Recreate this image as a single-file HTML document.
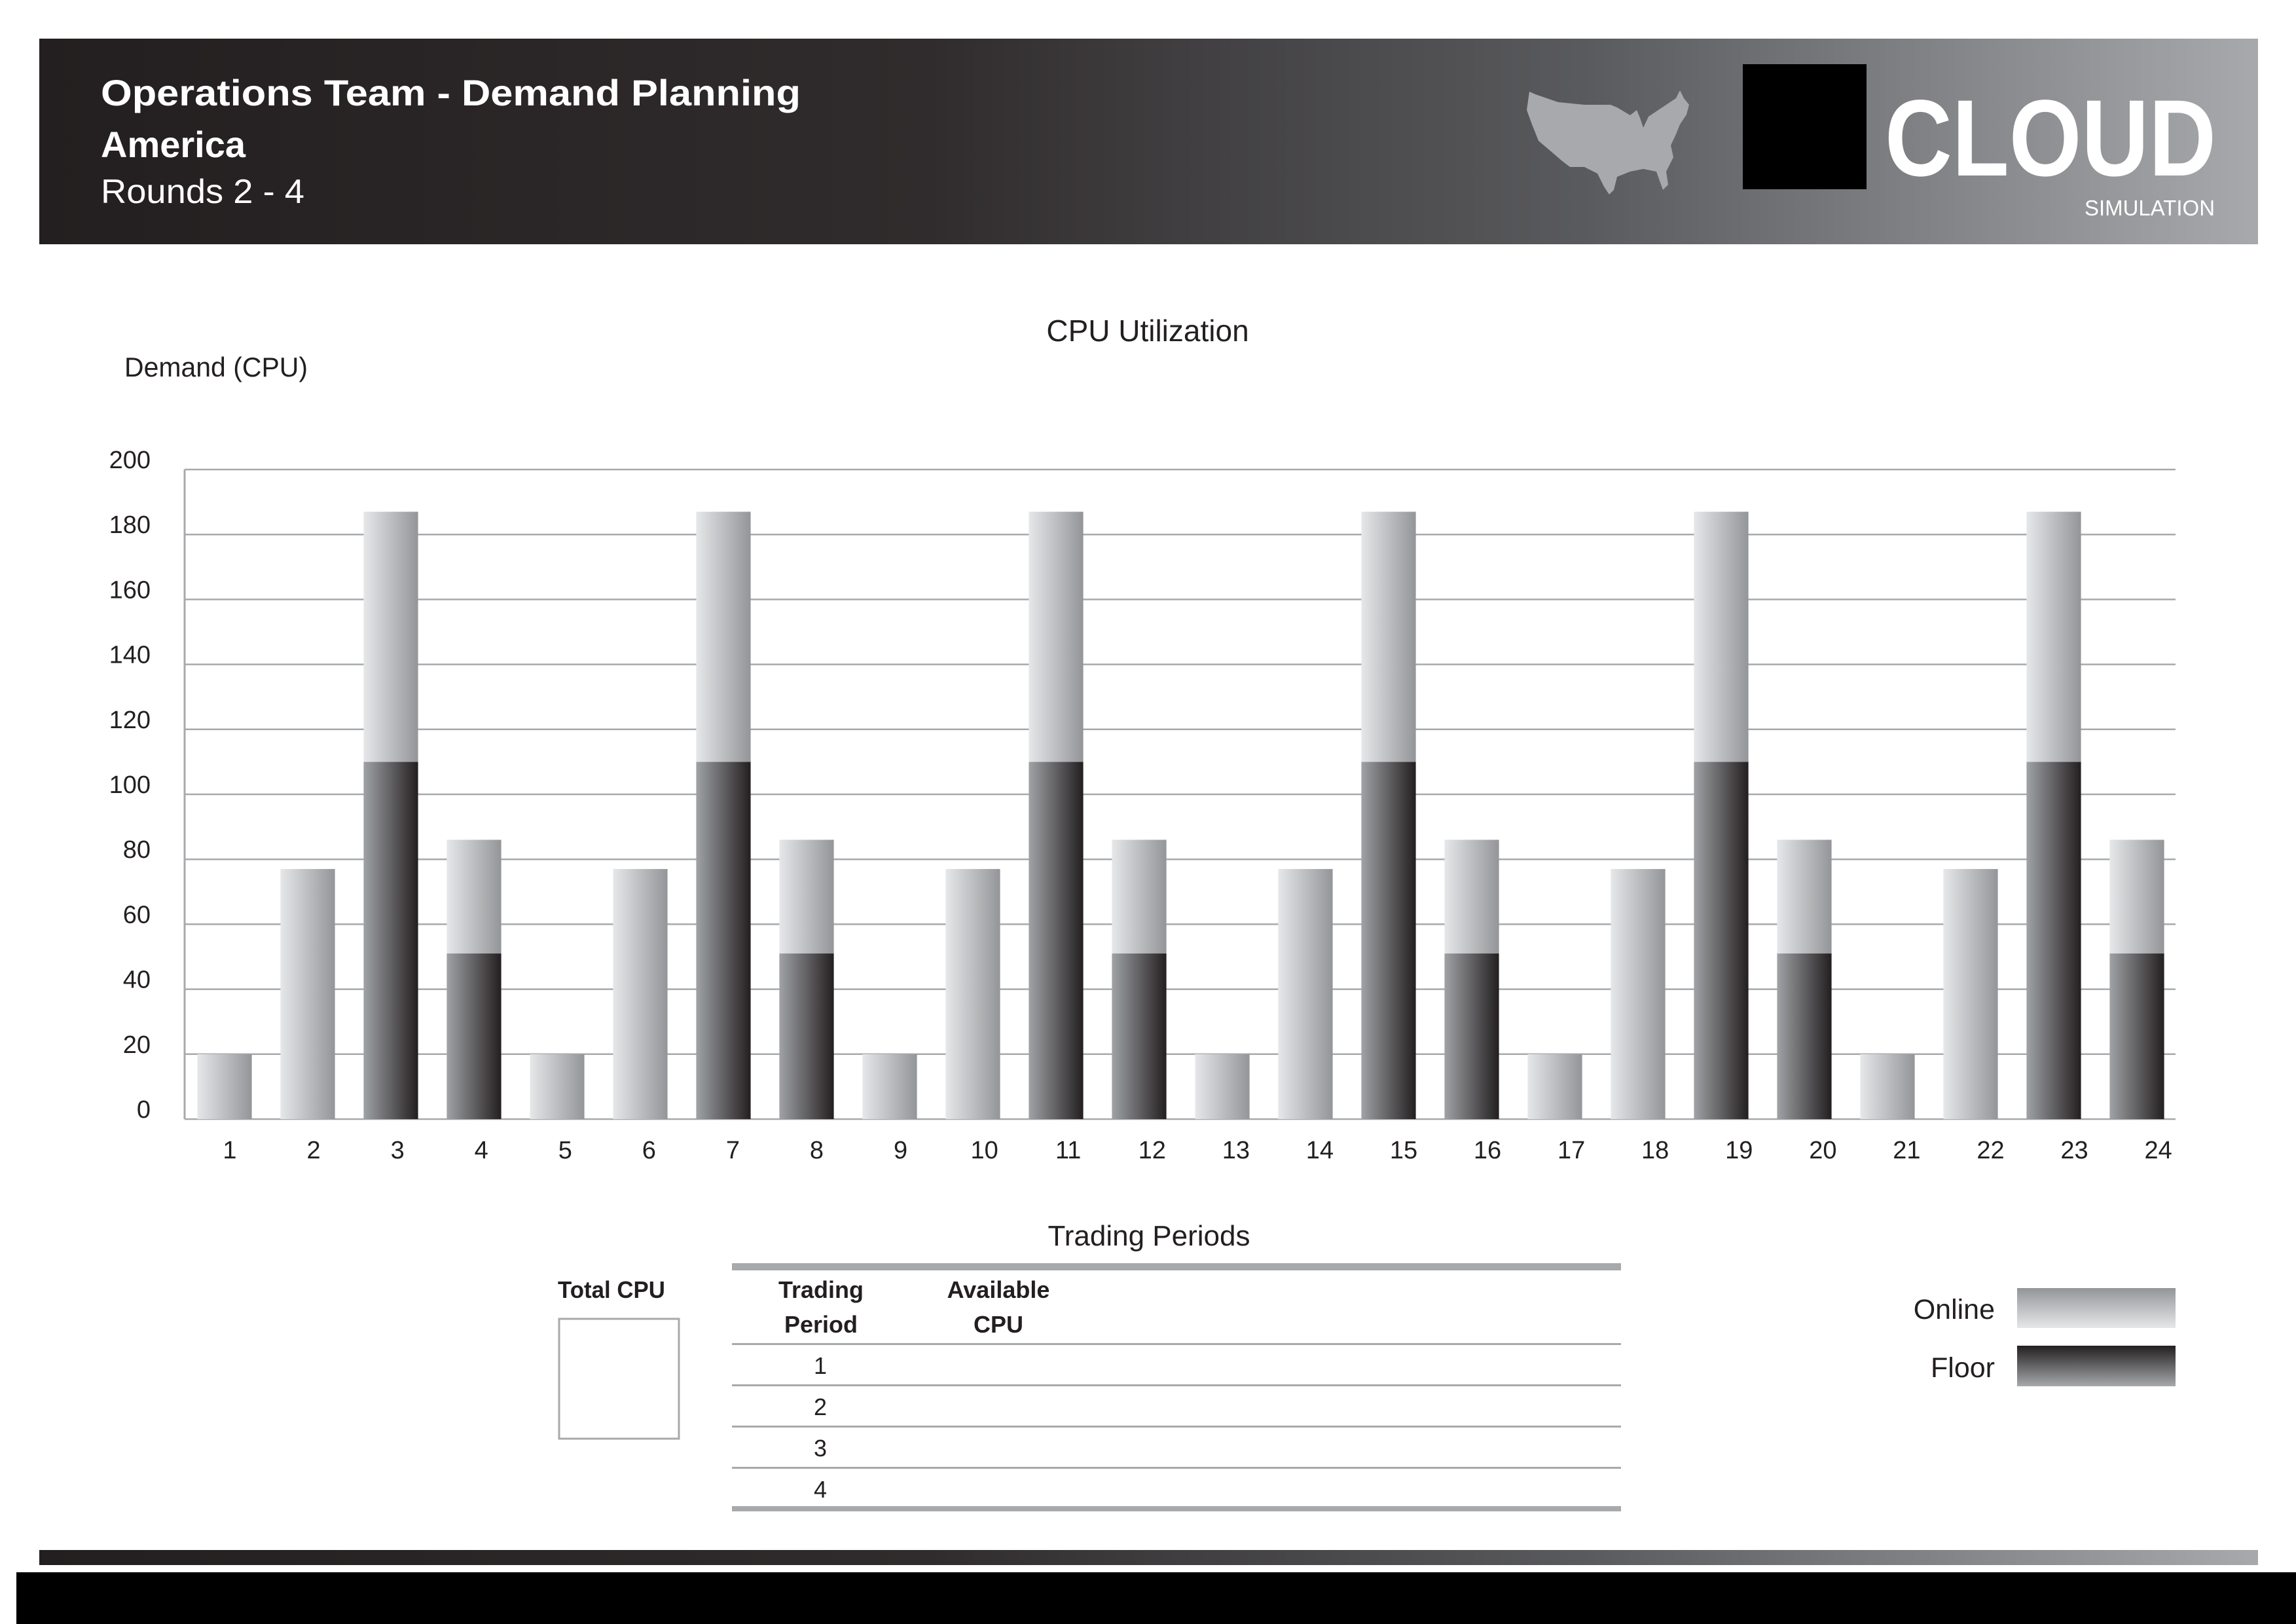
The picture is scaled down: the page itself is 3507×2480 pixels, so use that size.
<!DOCTYPE html>
<html><head><meta charset="utf-8"><style>
html,body{margin:0;padding:0;background:#fff;}
svg{display:block;font-family:"Liberation Sans",sans-serif;}
</style></head><body>
<svg id="page" width="3507" height="2480" viewBox="0 0 3507 2480" xmlns="http://www.w3.org/2000/svg">
<defs>
<linearGradient id="hdr" x1="0" x2="1" y1="0" y2="0"><stop offset="0" stop-color="#231f20"/><stop offset="0.4" stop-color="#302c2d"/><stop offset="0.7" stop-color="#5a5b5e"/><stop offset="1" stop-color="#a7a9ac"/></linearGradient>
<linearGradient id="gOn" x1="0" x2="1" y1="0" y2="0"><stop offset="0" stop-color="#e6e7e9"/><stop offset="1" stop-color="#939598"/></linearGradient>
<linearGradient id="gFl" x1="0" x2="1" y1="0" y2="0"><stop offset="0" stop-color="#a0a2a5"/><stop offset="1" stop-color="#231f20"/></linearGradient>
<linearGradient id="lOn" x1="0" x2="0" y1="0" y2="1"><stop offset="0" stop-color="#939598"/><stop offset="1" stop-color="#e6e7e9"/></linearGradient>
<linearGradient id="lFl" x1="0" x2="0" y1="0" y2="1"><stop offset="0" stop-color="#231f20"/><stop offset="1" stop-color="#a7a9ac"/></linearGradient>
</defs>

<g>
<rect x="60" y="59" width="3389" height="314" fill="url(#hdr)"/>
<text x="154" y="161" font-size="56" font-weight="bold" fill="#fff" textLength="1069" lengthAdjust="spacingAndGlyphs">Operations Team - Demand Planning</text>
<text x="154" y="240" font-size="56" font-weight="bold" fill="#fff">America</text>
<text x="154" y="310" font-size="52" fill="#fff" textLength="311" lengthAdjust="spacingAndGlyphs">Rounds 2 - 4</text>
<polygon fill="#a7a9ac" points="2336,140 2345,144 2380,156 2420,160 2460,160 2470,164 2480,170 2490,176 2500,168 2505,180 2510,195 2518,178 2530,170 2545,160 2560,150 2566,138 2572,150 2580,160 2576,175 2566,190 2560,205 2552,222 2556,240 2545,262 2548,282 2540,290 2530,262 2510,258 2490,262 2470,270 2465,290 2458,297 2450,285 2440,265 2420,255 2398,255 2385,245 2370,232 2350,215 2340,190 2332,168"/>
<rect x="2662" y="98" width="189" height="191" fill="#000"/>
<text x="2879" y="268" font-size="166" font-weight="bold" fill="#fff" textLength="506" lengthAdjust="spacingAndGlyphs">CLOUD</text>
<text x="3184" y="329" font-size="33" fill="#fff" textLength="199" lengthAdjust="spacingAndGlyphs">SIMULATION</text>
</g>

<text x="1753" y="521" font-size="46" fill="#231f20" text-anchor="middle">CPU Utilization</text>
<text x="190" y="575" font-size="42" fill="#231f20" textLength="280" lengthAdjust="spacingAndGlyphs">Demand (CPU)</text>
<text x="1755" y="1902" font-size="44" fill="#231f20" text-anchor="middle">Trading Periods</text>

<g id="grid"></g>
<g id="bars"></g>
<g id="ticks"></g>

<g>
<text x="852" y="1982" font-size="36" font-weight="bold" fill="#231f20" textLength="164" lengthAdjust="spacingAndGlyphs">Total CPU</text>
<rect x="854" y="2014" width="183" height="183" fill="#fff" stroke="#a7a9ac" stroke-width="3"/>
</g>

<g>
<rect x="1118" y="1929" width="1358" height="11" fill="#a7a9ac"/>
<text x="1254" y="1982" font-size="36" font-weight="bold" fill="#231f20" text-anchor="middle">Trading</text>
<text x="1254" y="2035" font-size="36" font-weight="bold" fill="#231f20" text-anchor="middle">Period</text>
<text x="1525" y="1982" font-size="36" font-weight="bold" fill="#231f20" text-anchor="middle">Available</text>
<text x="1525" y="2035" font-size="36" font-weight="bold" fill="#231f20" text-anchor="middle">CPU</text>
<rect x="1118" y="2051" width="1358" height="3" fill="#a7a9ac"/>
<rect x="1118" y="2114" width="1358" height="3" fill="#a7a9ac"/>
<rect x="1118" y="2177" width="1358" height="3" fill="#a7a9ac"/>
<rect x="1118" y="2240" width="1358" height="3" fill="#a7a9ac"/>
<text x="1253" y="2098" font-size="36" fill="#231f20" text-anchor="middle">1</text>
<text x="1253" y="2161" font-size="36" fill="#231f20" text-anchor="middle">2</text>
<text x="1253" y="2224" font-size="36" fill="#231f20" text-anchor="middle">3</text>
<text x="1253" y="2287" font-size="36" fill="#231f20" text-anchor="middle">4</text>
<rect x="1118" y="2300" width="1358" height="8" fill="#a7a9ac"/>
</g>

<g>
<text x="3047" y="2014" font-size="43" fill="#231f20" text-anchor="end">Online</text>
<rect x="3081" y="1967" width="242" height="61" fill="url(#lOn)"/>
<text x="3047" y="2103" font-size="43" fill="#231f20" text-anchor="end">Floor</text>
<rect x="3081" y="2055" width="242" height="62" fill="url(#lFl)"/>
</g>

<rect x="60" y="2367" width="3389" height="23" fill="url(#hdr)"/>
<rect x="25" y="2401" width="3482" height="79" fill="#000"/>

<script>
const categories = ["1","2","3","4","5","6","7","8","9","10","11","12","13","14","15","16","17","18","19","20","21","22","23","24"];
const floorValues = [0,0,110,51, 0,0,110,51, 0,0,110,51, 0,0,110,51, 0,0,110,51, 0,0,110,51];
const onlineValues = [20,77,77,35, 20,77,77,35, 20,77,77,35, 20,77,77,35, 20,77,77,35, 20,77,77,35];
const yTicks = [0,20,40,60,80,100,120,140,160,180,200];

const NS = "http://www.w3.org/2000/svg";
const AX = 282, X0 = 279.5, X1 = 3323, Y0 = 1709, Y1 = 717, YMAX = 200;
const band = 127.0;
const barW = band * 0.655;
function yScale(v){ return Y0 - (v / YMAX) * (Y0 - Y1); }
function xCenter(i){ return X0 + band * (i + 0.5); }
function labelX(i){ return 351 + 128.07 * i; }
function mk(tag, attrs, parent){ const e = document.createElementNS(NS, tag); for (const k in attrs) e.setAttribute(k, attrs[k]); parent.appendChild(e); return e; }

const grid = document.getElementById('grid');
const bars = document.getElementById('bars');
const ticks = document.getElementById('ticks');

yTicks.forEach(function(t){
  const y = yScale(t);
  const line = mk('line', {x1: AX, x2: X1, y1: y, y2: y, stroke: '#a7a9ac', 'stroke-width': 2.5}, grid);
  
  
  const lbl = mk('text', {x: 230, y: y - 2, 'font-size': 38, fill: '#231f20', 'text-anchor': 'end'}, ticks);
  lbl.textContent = t;
  
  
});
const yAxis = mk('line', {x1: AX, x2: AX, y1: Y1, y2: Y0, stroke: '#a7a9ac', 'stroke-width': 3}, grid);



categories.forEach(function(c, i){
  const cx = xCenter(i);
  const f = floorValues[i], o = onlineValues[i];
  if (f > 0) {
    const r = mk('rect', {x: cx - barW/2, y: yScale(f), width: barW, height: Y0 - yScale(f), fill: 'url(#gFl)'}, bars);
    
    
  }
  const r2 = mk('rect', {x: cx - barW/2, y: yScale(f + o), width: barW, height: yScale(f) - yScale(f + o), fill: 'url(#gOn)'}, bars);
  
  
  const lbl = mk('text', {x: labelX(i), y: 1769, 'font-size': 38, fill: '#231f20', 'text-anchor': 'middle'}, ticks);
  lbl.textContent = c;
  
  
});
</script>
</svg>
</body></html>
